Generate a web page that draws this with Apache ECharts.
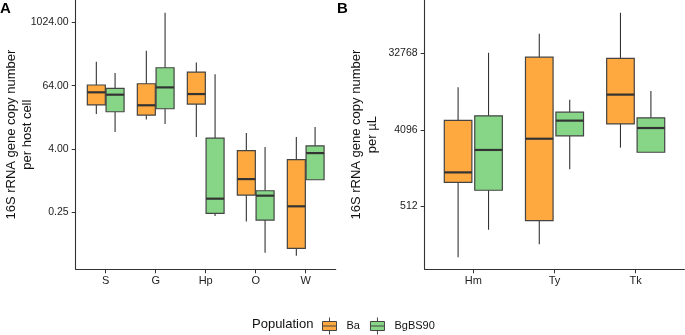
<!DOCTYPE html>
<html>
<head>
<meta charset="utf-8">
<script src="https://cdn.jsdelivr.net/npm/echarts@6/dist/echarts.min.js"></script>
<style>
html, body { margin: 0; padding: 0; background: #fff; }
#chart { width: 685px; height: 335px; }
</style>
</head>
<body>
<div id="chart"></div>
<script>
// panel A: copies per host cell, panel B: copies per µL
var catsA = ['S', 'G', 'Hp', 'O', 'W'];
var catsB = ['Hm', 'Ty', 'Tk'];
// each box: [min, Q1, median, Q3, max]
var baA = [[18.5, 27.5, 47.8, 65.8, 182], [14.6, 17.6, 27.1, 69.6, 296], [6.73, 28.6, 44.3, 116, 177], [0.168, 0.532, 1.07, 3.71, 8.06], [0.0375, 0.0514, 0.325, 2.50, 6.73]];
var bgA = [[8.4, 20.4, 43.1, 56.9, 111], [12.0, 23.3, 59.3, 140, 1563], [0.212, 0.238, 0.454, 6.45, 106], [0.0427, 0.178, 0.518, 0.642, 4.35], [1.04, 1.04, 3.34, 4.59, 10.5]];
var baB = [[128, 982, 1287, 5293, 13030], [182, 347, 3214, 29530, 55880], [2521, 4803, 10660, 28530, 98640]];
var bgB = [[271, 792, 2369, 5997, 33226], [1399, 3468, 5256, 6607, 9280], [2226, 2226, 4299, 5673, 11740]];
var ticksA = [0.25, 4, 64, 1024];
var ticksB = [512, 4096, 32768];

var orange = '#FDA93F';
var green = '#87D687';
var font = 'Liberation Sans, Arial, sans-serif';
var iconPath = 'path://M7,0V4M0,4H14V13H0ZM0,8.5H14M7,13V17';

var myChart = echarts.init(document.getElementById('chart'));

function withIndex(rows) {
    return rows.map(function (r, i) { return [i + 1].concat(r); });
}

function boxRender(offset, halfW) {
    return function (params, api) {
        var x = api.value(0) + offset;
        var yMin = api.coord([x, api.value(1)])[1];
        var yQ1 = api.coord([x, api.value(2)])[1];
        var yMed = api.coord([x, api.value(3)])[1];
        var yQ3 = api.coord([x, api.value(4)])[1];
        var yMax = api.coord([x, api.value(5)])[1];
        var cx = api.coord([x, api.value(3)])[0];
        var x0 = api.coord([x - halfW, api.value(3)])[0];
        var x1 = api.coord([x + halfW, api.value(3)])[0];
        var lineStyle = { stroke: '#333', lineWidth: 1.1 };
        return {
            type: 'group',
            children: [
                { type: 'line', shape: { x1: cx, y1: yMax, x2: cx, y2: yQ3 }, style: lineStyle },
                { type: 'line', shape: { x1: cx, y1: yQ1, x2: cx, y2: yMin }, style: lineStyle },
                { type: 'rect', shape: { x: x0, y: yQ3, width: x1 - x0, height: yQ1 - yQ3 },
                  style: { fill: api.visual('color'), stroke: '#444', lineWidth: 1.2 } },
                { type: 'line', shape: { x1: x0, y1: yMed, x2: x1, y2: yMed }, style: { stroke: '#333', lineWidth: 2.2 } }
            ]
        };
    };
}

function catAxis(grid, cats) {
    var idx = cats.map(function (c, i) { return i + 1; });
    return {
        type: 'value', gridIndex: grid, min: 0.4, max: cats.length + 0.6,
        axisLine: { show: true, lineStyle: { color: '#333', width: 1.1 } },
        axisTick: { show: true, customValues: idx, length: 4, lineStyle: { color: '#333' } },
        axisLabel: { customValues: idx, margin: 6, fontSize: 11, color: '#222', fontFamily: font,
            formatter: function (v) { return cats[Math.round(v) - 1]; } },
        splitLine: { show: false }
    };
}

function logAxis(grid, ticks, lo, hi, name, fmt, gap) {
    return {
        type: 'log', logBase: 2, gridIndex: grid, min: Math.pow(2, lo), max: Math.pow(2, hi),
        name: name, nameLocation: 'middle', nameRotate: 90, nameGap: gap, nameMoveOverlap: false,
        nameTextStyle: { fontSize: 13, lineHeight: 16, color: '#111', fontFamily: font },
        axisLine: { show: true, lineStyle: { color: '#333', width: 1.1 } },
        axisTick: { show: true, customValues: ticks, length: 4, lineStyle: { color: '#333' } },
        axisLabel: { customValues: ticks, margin: 7, fontSize: 10.5, color: '#222', fontFamily: font, formatter: fmt },
        splitLine: { show: false }
    };
}

function boxSeries(name, color, xi, rows, offset, halfW) {
    return {
        name: name, type: 'custom', xAxisIndex: xi, yAxisIndex: xi,
        itemStyle: { color: color },
        renderItem: boxRender(offset, halfW),
        encode: { x: 0, y: [1, 2, 3, 4, 5] },
        data: withIndex(rows)
    };
}

option = {
    animation: false,
    textStyle: { fontFamily: font },
    title: [
        { text: 'A', left: 0, top: 1, padding: 0, textStyle: { fontSize: 15, fontWeight: 'bold', color: '#000' } },
        { text: 'B', left: 337, top: 1, padding: 0, textStyle: { fontSize: 15, fontWeight: 'bold', color: '#000' } },
        { text: 'Population', left: 252, top: 318, padding: 0, textStyle: { fontSize: 13, fontWeight: 'normal', color: '#111' } }
    ],
    legend: {
        left: 322, top: 317, padding: 0, itemGap: 10, itemWidth: 14, itemHeight: 17,
        textStyle: { fontSize: 11, color: '#111', padding: [0, 0, 0, 5] },
        itemStyle: { borderColor: '#444', borderWidth: 1 },
        data: [{ name: 'Ba', icon: iconPath }, { name: 'BgBS90', icon: iconPath }]
    },
    grid: [
        { left: 75.7, right: 349.3, top: 0, bottom: 65.7, outerBoundsMode: 'none' },
        { left: 424.6, right: 0.6, top: 0, bottom: 65.7, outerBoundsMode: 'none' }
    ],
    xAxis: [catAxis(0, catsA), catAxis(1, catsB)],
    yAxis: [
        logAxis(0, ticksA, -5.6, 11.41, '16S rRNA gene copy number\nper host cell',
            function (v) { return v.toFixed(2); }, 40),
        logAxis(1, ticksB, 6.53, 17.09, '16S rRNA gene copy number\nper µL',
            function (v) { return String(Math.round(v)); }, 44)
    ],
    series: [
        boxSeries('Ba', orange, 0, baA, -0.1875, 0.18),
        boxSeries('BgBS90', green, 0, bgA, 0.1875, 0.18),
        boxSeries('Ba', orange, 1, baB, -0.1875, 0.17),
        boxSeries('BgBS90', green, 1, bgB, 0.1875, 0.17)
    ]
};
myChart.setOption(option);
</script>
</body>
</html>
